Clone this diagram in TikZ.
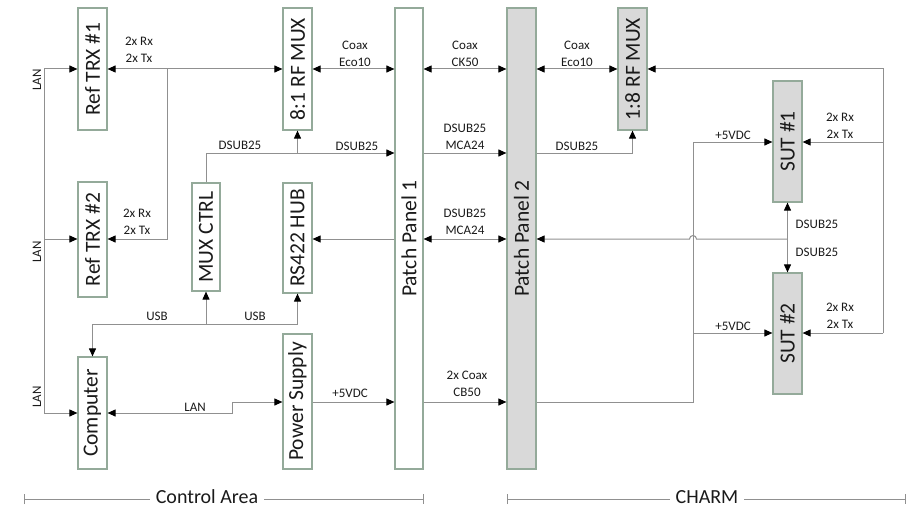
\documentclass[tikz,border=0pt]{standalone}
\usepackage{fontspec}
\setmainfont{Carlito}
\usetikzlibrary{arrows.meta}
\definecolor{boxline}{HTML}{94AA9A}
\definecolor{wire}{HTML}{909090}
\definecolor{boxfill}{HTML}{D9D9D9}
\definecolor{txt}{HTML}{1A1A1A}
\tikzset{
  blk/.style={draw=boxline, line width=1.2pt, fill=white, inner sep=0pt, text=txt, font=\fontsize{21.5}{23}\selectfont},
  gblk/.style={blk, fill=boxfill},
  wirel/.style={draw=wire, line width=1pt},
  tip/.tip={Triangle[length=8pt,width=7pt,color=black]},
  ar/.style={wirel, -tip},
  dar/.style={wirel, tip-tip},
  lbl/.style={font=\fontsize{13}{17}\selectfont, text=txt, align=center, inner sep=0pt},
  biglbl/.style={font=\fontsize{20}{22}\selectfont, text=txt, fill=white, inner xsep=6pt, inner ysep=1pt},
  brk/.style={draw=wire, line width=1pt, {Bar[width=10pt]}-{Bar[width=10pt]}}
}
\begin{document}
\begin{tikzpicture}[x=1pt,y=-1pt]
\useasboundingbox (0,0) rectangle (907,508);
% boxes
\node[blk, minimum width=29pt, minimum height=122pt] (trx1) at (92.5,69) {\rotatebox{90}{Ref TRX \#1}};
\node[blk, minimum width=29pt, minimum height=115pt] (trx2) at (92.5,239.5) {\rotatebox{90}{Ref TRX \#2}};
\node[blk, minimum width=29pt, minimum height=112pt] (comp) at (92.5,413) {\rotatebox{90}{Computer}};
\node[blk, minimum width=29pt, minimum height=122pt] (mux81) at (297.5,69) {\rotatebox{90}{8:1 RF MUX}};
\node[blk, minimum width=28pt, minimum height=108pt] (muxc) at (206,237) {\rotatebox{90}{MUX CTRL}};
\node[blk, minimum width=29pt, minimum height=110pt] (rs) at (297.5,238) {\rotatebox{90}{RS422 HUB}};
\node[blk, minimum width=29pt, minimum height=135pt] (psu) at (297.5,401.5) {\rotatebox{90}{Power Supply}};
\node[blk, minimum width=28pt, minimum height=461pt] (pp1) at (409,238.5) {\rotatebox{90}{Patch Panel 1}};
\node[gblk, minimum width=29pt, minimum height=461pt] (pp2) at (521.5,238.5) {\rotatebox{90}{Patch Panel 2}};
\node[gblk, minimum width=29pt, minimum height=122pt] (mux18) at (632.5,69) {\rotatebox{90}{1:8 RF MUX}};
\node[gblk, minimum width=29pt, minimum height=121pt] (sut1) at (787.5,141.5) {\rotatebox{90}{SUT \#1}};
\node[gblk, minimum width=29pt, minimum height=121pt] (sut2) at (787.5,333.5) {\rotatebox{90}{SUT \#2}};
% coordinates
\coordinate (lanT) at (44,69);
\coordinate (lanM) at (44,239);
\coordinate (lanB) at (44,413);
\coordinate (br1) at (167,69);
\coordinate (br2) at (167,239);
\coordinate (rt1) at (883,69);
\coordinate (rt2) at (883,142);
\coordinate (rt3) at (883,333);
\coordinate (ds1) at (206,153);
\coordinate (ds2) at (297.5,153);
\coordinate (ds3) at (632.5,153);
\coordinate (usbL) at (92.5,324);
\coordinate (usbM) at (206,324);
\coordinate (usbR) at (297.5,324);
\coordinate (lanC1) at (232,413);
\coordinate (lanC2) at (232,402);
\coordinate (pw1) at (693,402);
\coordinate (pw2) at (693,142);
\coordinate (pw3) at (693,333);
\coordinate (sj) at (787.5,239);
% LAN left
\draw[wirel] (lanT) -- (lanB);
\draw[ar] (lanT) -- (trx1.west |- lanT);
\draw[ar] (lanM) -- (trx2.west |- lanM);
\draw[ar] (lanB) -- (comp.west |- lanB);
% RF top row
\draw[dar] (trx1.east |- br1) -- (mux81.west |- br1);
\draw[ar] (br1) -- (br2) -- (trx2.east |- br2);
\draw[dar] (mux81.east |- br1) -- (pp1.west |- br1);
\draw[dar] (pp1.east |- br1) -- (pp2.west |- br1);
\draw[dar] (pp2.east |- br1) -- (mux18.west |- br1);
\draw[ar] (rt3) -- (rt1) -- (mux18.east |- rt1);
\draw[ar] (rt2) -- (sut1.east |- rt2);
\draw[ar] (rt3) -- (sut2.east |- rt3);
% DSUB25 row
\draw[ar] (muxc.north) -- (ds1) -- (pp1.west |- ds1);
\draw[ar] (ds2) -- (mux81.south);
\draw[ar] (pp1.east |- ds1) -- (pp2.west |- ds1);
\draw[ar] (pp2.east |- ds1) -- (ds3) -- (mux18.south);
% middle row
\draw[ar] (pp1.west |- sj) -- (rs.east |- sj);
\draw[dar] (pp1.east |- sj) -- (pp2.west |- sj);
\draw[ar] (sj) -- (696.5,239) arc[start angle=0, end angle=180, radius=3.5pt] -- (pp2.east |- sj);
\draw[dar] (sut1.south) -- (sut2.north);
% USB
\draw[ar] (usbR) -- (usbL) -- (comp.north);
\draw[ar] (usbM) -- (muxc.south);
\draw[ar] (usbR) -- (rs.south);
% LAN computer - psu
\draw[dar] (comp.east |- lanC1) -- (lanC1) -- (lanC2) -- (psu.west |- lanC2);
% power
\draw[ar] (psu.east |- lanC2) -- (pp1.west |- lanC2);
\draw[ar] (pp1.east |- lanC2) -- (pp2.west |- lanC2);
\draw[ar] (pp2.east |- pw1) -- (pw1) -- (pw2) -- (sut1.west |- pw2);
\draw[ar] (pw3) -- (sut2.west |- pw3);
% labels
\node[lbl] (l1) at (139,50) {2x Rx\\2x Tx};
\node[lbl] (l2) at (137,221.5) {2x Rx\\2x Tx};
\node[lbl] (l3) at (355,53.5) {Coax\\Eco10};
\node[lbl] (l4) at (465,53.5) {Coax\\CK50};
\node[lbl] (l5) at (577,53.5) {Coax\\Eco10};
\node[lbl] (l6) at (240,145) {DSUB25};
\node[lbl] (l7) at (357,146) {DSUB25};
\node[lbl] (l8) at (465,137) {DSUB25\\MCA24};
\node[lbl] (l9) at (577,146) {DSUB25};
\node[lbl] (l10) at (733,135) {+5VDC};
\node[lbl] (l11) at (840,125.5) {2x Rx\\2x Tx};
\node[lbl] (l12) at (465,221.5) {DSUB25\\MCA24};
\node[lbl] (l13) at (817,224) {DSUB25};
\node[lbl] (l14) at (817,252) {DSUB25};
\node[lbl] (l15) at (157,316) {USB};
\node[lbl] (l16) at (255,316) {USB};
\node[lbl] (l17) at (733,326) {+5VDC};
\node[lbl] (l18) at (840,315.5) {2x Rx\\2x Tx};
\node[lbl] (l19) at (195,407) {LAN};
\node[lbl] (l20) at (350,393) {+5VDC};
\node[lbl] (l21) at (467,383.5) {2x Coax\\CB50};
\node[lbl, rotate=90] (l22) at (37,80) {LAN};
\node[lbl, rotate=90] (l23) at (37,252) {LAN};
\node[lbl, rotate=90] (l24) at (37,397) {LAN};
% area brackets
\coordinate (ca1) at (24,499);
\coordinate (ca2) at (424,499);
\coordinate (ch1) at (507,499);
\coordinate (ch2) at (906,499);
\draw[brk] (ca1) -- (ca2);
\draw[brk] (ch1) -- (ch2);
\node[biglbl] (ca) at (207,497) {Control Area};
\node[biglbl] (ch) at (707,497) {CHARM};
\end{tikzpicture}
\end{document}
